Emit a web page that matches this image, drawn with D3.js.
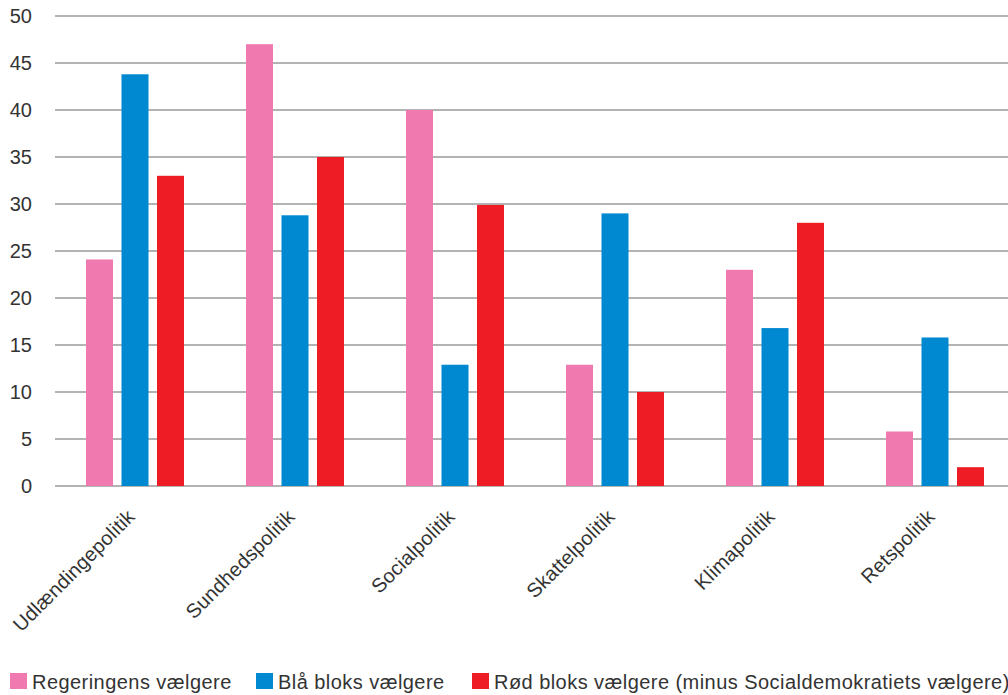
<!DOCTYPE html>
<html><head><meta charset="utf-8">
<script src="https://cdn.jsdelivr.net/npm/d3@7"></script>
<style>body{margin:0;background:#fff;overflow:hidden}svg{display:block}text{font-family:"Liberation Sans",Arial,sans-serif;fill:#333}</style>
</head><body><svg id="c" width="1008" height="695"></svg>
<script>
const categories = ["Udlændingepolitik","Sundhedspolitik","Socialpolitik","Skattelpolitik","Klimapolitik","Retspolitik"];
const seriesNames = ["Regeringens vælgere","Blå bloks vælgere","Rød bloks vælgere (minus Socialdemokratiets vælgere)"];
const regering = [24.1, 47, 40, 12.9, 23, 5.8];
const blaa = [43.8, 28.8, 12.9, 29, 16.8, 15.8];
const roed = [33, 35, 29.9, 10, 28, 2];
const yTicks = [0,5,10,15,20,25,30,35,40,45,50];
const colors = ["#f07ab0","#0088d0","#ee1c25"];
const series = [regering, blaa, roed];

(function(){
const svg = d3.select("#c");
const pl = 55, pr = 1015, pt = 16, pb = 486;
const x = d3.scaleBand().domain(categories).range([pl, pr]);
const y = d3.scaleLinear().domain([0,50]).range([pb, pt]);
const barW = 27, step = 35.5;

svg.append("g").selectAll("line").data(yTicks).join("line")
  .attr("x1", pl).attr("x2", 1008)
  .attr("y1", d=>y(d)).attr("y2", d=>y(d))
  .attr("stroke", "#9a9a9a").attr("stroke-width", 1.5);

svg.append("g").selectAll("text").data(yTicks).join("text")
  .attr("x", 32).attr("y", d=>y(d)+7).attr("text-anchor","end")
  .attr("font-size", 20).text(d=>d);

series.forEach((vals, si) => {
  svg.append("g").selectAll("rect").data(categories).join("rect")
    .attr("x", (c)=> x(c) + x.bandwidth()/2 - 49 + si*step)
    .attr("width", barW)
    .attr("y", (c,i)=>y(vals[i]))
    .attr("height", (c,i)=>y(0)-y(vals[i]))
    .attr("fill", colors[si]);
});

svg.append("g").selectAll("text").data(categories).join("text")
  .attr("transform", c=>`translate(${x(c)+x.bandwidth()/2+1},${518}) rotate(-45)`)
  .attr("text-anchor","end").attr("font-size", 20).attr("letter-spacing", 0.2).text(c=>c);

const legX = [10, 256, 472];
seriesNames.forEach((n,i)=>{
  svg.append("rect").attr("x", legX[i]).attr("y", 673).attr("width", 17).attr("height", 16).attr("fill", colors[i]);
  svg.append("text").attr("x", legX[i]+22).attr("y", 689).attr("font-size", 20).attr("letter-spacing", 0.45).text(n);
});
})();
</script></body></html>
